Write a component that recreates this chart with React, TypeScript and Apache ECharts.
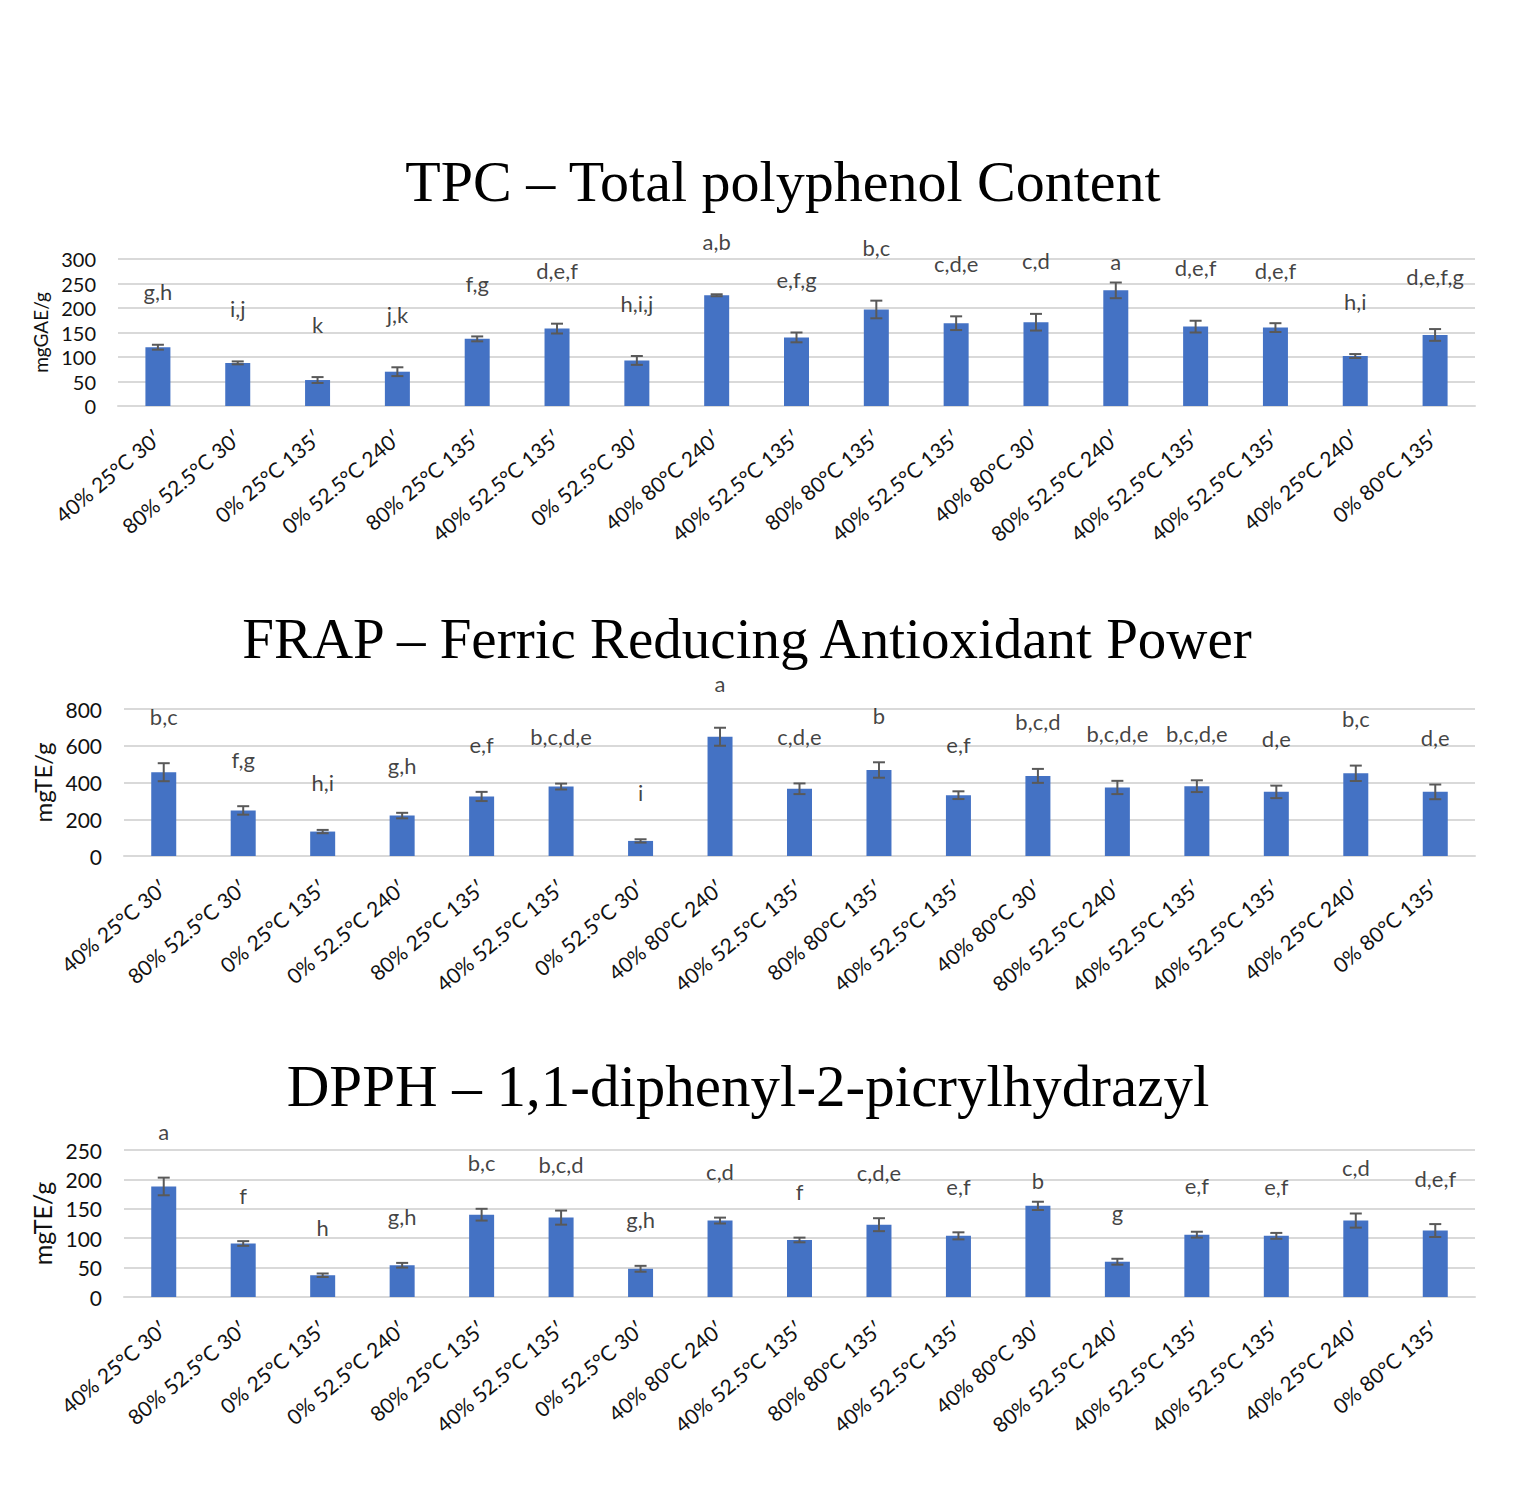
import React, { useEffect, useRef } from "react";
import * as echarts from "echarts";

const categories = [
  "40% 25°C 30′",
  "80% 52.5°C 30′",
  "0% 25°C 135′",
  "0% 52.5°C 240′",
  "80% 25°C 135′",
  "40% 52.5°C 135′",
  "0% 52.5°C 30′",
  "40% 80°C 240′",
  "40% 52.5°C 135′",
  "80% 80°C 135′",
  "40% 52.5°C 135′",
  "40% 80°C 30′",
  "80% 52.5°C 240′",
  "40% 52.5°C 135′",
  "40% 52.5°C 135′",
  "40% 25°C 240′",
  "0% 80°C 135′",
];

const tpcValues = [120, 88, 53, 70, 137, 158, 93, 226, 140, 197, 169, 171, 236, 162, 160, 102, 145];
const tpcErrors = [5, 3, 6, 9, 5, 10, 9, 2, 10, 18, 14, 17, 16, 12, 9, 4, 12];
const tpcLetters = ["g,h", "i,j", "k", "j,k", "f,g", "d,e,f", "h,i,j", "a,b", "e,f,g", "b,c", "c,d,e", "c,d", "a", "d,e,f", "d,e,f", "h,i", "d,e,f,g"];

const frapValues = [456, 248, 133, 220, 324, 378, 82, 649, 366, 468, 331, 436, 373, 380, 349, 450, 349];
const frapErrors = [49, 23, 9, 15, 25, 16, 9, 49, 29, 42, 21, 38, 36, 32, 34, 42, 40];
const frapLetters = ["b,c", "f,g", "h,i", "g,h", "e,f", "b,c,d,e", "i", "a", "c,d,e", "b", "e,f", "b,c,d", "b,c,d,e", "b,c,d,e", "d,e", "b,c", "d,e"];

const dpphValues = [188, 91, 37, 54, 140, 135, 48, 130, 97, 123, 104, 155, 60, 106, 104, 130, 113];
const dpphErrors = [15, 4, 3, 4, 10, 12, 5, 5, 4, 11, 6, 7, 5, 5, 5, 12, 11];
const dpphLetters = ["a", "f", "h", "g,h", "b,c", "b,c,d", "g,h", "c,d", "f", "c,d,e", "e,f", "b", "g", "e,f", "e,f", "c,d", "d,e,f"];

const titles = [
  "TPC – Total polyphenol Content",
  "FRAP – Ferric Reducing Antioxidant Power",
  "DPPH – 1,1-diphenyl-2-picrylhydrazyl",
];
const yNames = ["mgGAE/g", "mgTE/g", "mgTE/g"];
const yMax = [300, 800, 250];
const yInterval = [50, 200, 50];

const BAR = "#4472C4";
const ERR = "#595959";
const GRID = "#d9d9d9";
const SANS = "Lato, 'Liberation Sans', sans-serif";
const SERIF = "'Liberation Serif', serif";

const layout = [
  { left: 118, top: 259, width: 1357, height: 147, titleX: 783, titleY: 181, titleFont: 58, tickFont: 20, nameFont: 19, nameGap: 64, letterGap: 43 },
  { left: 124, top: 709, width: 1351, height: 147, titleX: 747, titleY: 638, titleFont: 57, tickFont: 21, nameFont: 24, nameGap: 66, letterGap: 37 },
  { left: 124, top: 1150, width: 1351, height: 147, titleX: 748, titleY: 1086, titleFont: 59, tickFont: 21, nameFont: 25, nameGap: 58, letterGap: 36 },
];

// extra downward shift (px) for a few letter labels placed lower in the original
const letterDrop: Record<string, number> = { "0-12": 32, "1-7": 3, "2-11": 25 };

function buildOption() {
  const datasets = [
    { values: tpcValues, errors: tpcErrors, letters: tpcLetters },
    { values: frapValues, errors: frapErrors, letters: frapLetters },
    { values: dpphValues, errors: dpphErrors, letters: dpphLetters },
  ];
  const grid: any[] = [];
  const xAxis: any[] = [];
  const yAxis: any[] = [];
  const series: any[] = [];
  const graphic: any[] = [];

  datasets.forEach((d, k) => {
    const L = layout[k];
    grid.push({ left: L.left, top: L.top, width: L.width, height: L.height, containLabel: false });
    xAxis.push({
      type: "category",
      gridIndex: k,
      data: categories,
      axisLine: { show: true, lineStyle: { color: GRID, width: 2 } },
      axisTick: { show: false },
      axisLabel: {
        interval: 0,
        rotate: 40,
        margin: 28,
        fontSize: 21,
        fontFamily: SANS,
        color: "#111",
      },
    });
    yAxis.push({
      type: "value",
      gridIndex: k,
      min: 0,
      max: yMax[k],
      interval: yInterval[k],
      name: yNames[k],
      nameLocation: "middle",
      nameRotate: 90,
      nameGap: L.nameGap,
      nameTextStyle: { fontSize: L.nameFont, fontFamily: SANS, color: "#111" },
      axisLine: { show: false },
      axisTick: { show: false },
      splitLine: { show: true, lineStyle: { color: GRID, width: 2 } },
      axisLabel: { fontSize: L.tickFont, fontFamily: SANS, color: "#111", margin: 22 },
    });
    series.push({
      type: "bar",
      xAxisIndex: k,
      yAxisIndex: k,
      data: d.values,
      barWidth: 25,
      itemStyle: { color: BAR },
      z: 2,
    });
    series.push({
      type: "custom",
      xAxisIndex: k,
      yAxisIndex: k,
      z: 3,
      encode: { x: 0, y: [1, 2] },
      data: d.values.map((v, i) => [i, v - d.errors[i], v + d.errors[i]]),
      renderItem: (params: any, api: any) => {
        const x = api.value(0);
        const lo = api.coord([x, api.value(1)]);
        const hi = api.coord([x, api.value(2)]);
        const half = 6;
        const style = { stroke: ERR, lineWidth: 2 };
        return {
          type: "group",
          children: [
            { type: "line", shape: { x1: lo[0], y1: lo[1], x2: hi[0], y2: hi[1] }, style },
            { type: "line", shape: { x1: lo[0] - half, y1: lo[1], x2: lo[0] + half, y2: lo[1] }, style },
            { type: "line", shape: { x1: hi[0] - half, y1: hi[1], x2: hi[0] + half, y2: hi[1] }, style },
          ],
        };
      },
    });
    series.push({
      type: "scatter",
      xAxisIndex: k,
      yAxisIndex: k,
      symbolSize: 0,
      z: 4,
      data: d.values.map((v, i) => {
        const drop = letterDrop[`${k}-${i}`] || 0;
        return { value: [i, v + d.errors[i]], label: { distance: L.letterGap - drop } };
      }),
      label: {
        show: true,
        position: "top",
        distance: L.letterGap,
        lineHeight: 20,
        formatter: (p: any) => d.letters[p.dataIndex],
        fontSize: 22,
        fontFamily: SANS,
        color: "#111",
      },
    });
    graphic.push({
      type: "text",
      x: L.titleX,
      y: L.titleY,
      style: {
        text: titles[k],
        fontSize: L.titleFont,
        lineHeight: 46,
        fontFamily: SERIF,
        fill: "#000",
        textAlign: "center",
        textVerticalAlign: "middle",
        verticalAlign: "middle",
      },
    });
  });

  return {
    animation: false,
    backgroundColor: "#fff",
    grid,
    xAxis,
    yAxis,
    series,
    graphic,
  };
}

export default function App() {
  const ref = useRef<HTMLDivElement>(null);
  useEffect(() => {
    document.body.style.margin = "0";
    const chart = echarts.init(ref.current as HTMLDivElement, null, { renderer: "svg" });
    chart.setOption(buildOption() as any);
    return () => chart.dispose();
  }, []);
  return <div ref={ref} style={{ width: 1527, height: 1503, background: "#fff" }} />;
}
